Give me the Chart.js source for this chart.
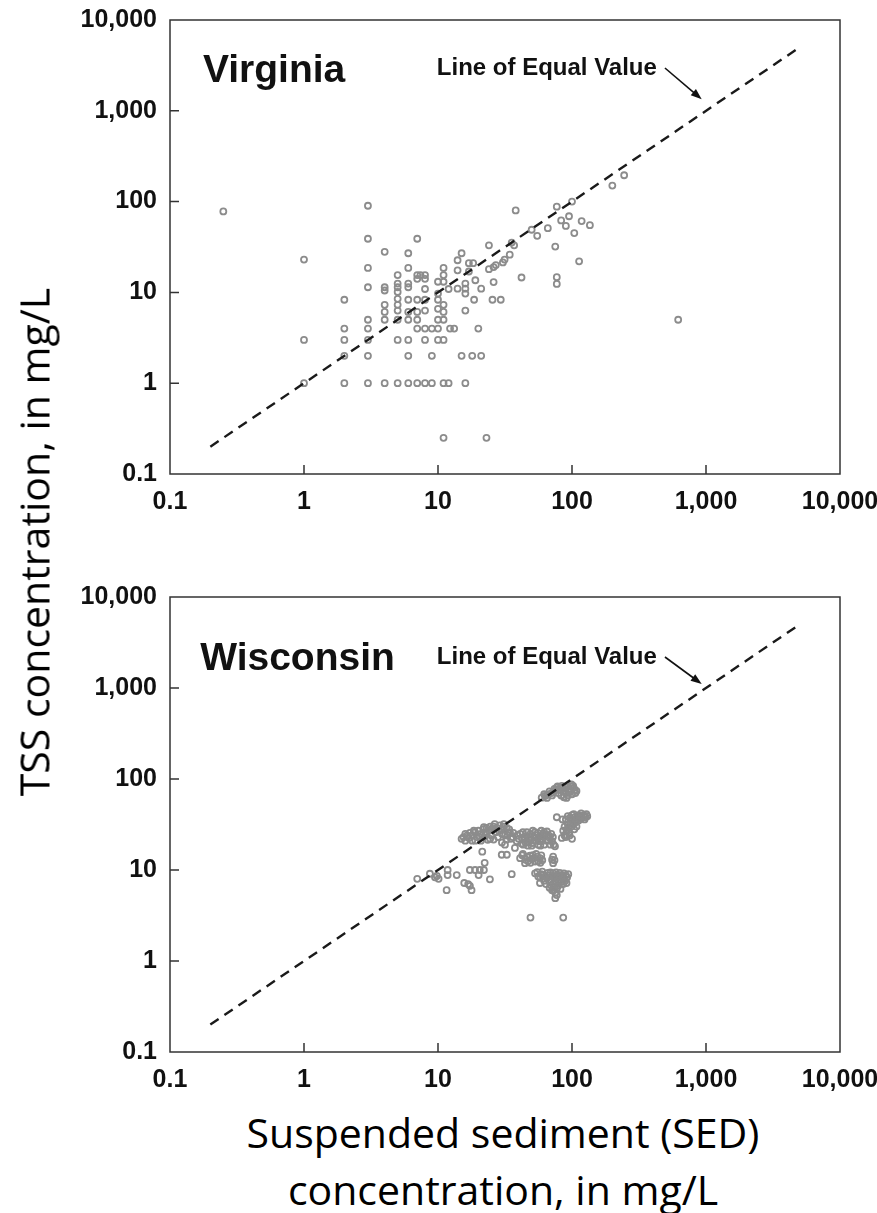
<!DOCTYPE html>
<html lang="en">

<head>
    <meta charset="UTF-8">
    <title>TSS x SED</title>
    <script src="https://cdn.jsdelivr.net/npm/chart.js"></script>
    <style>
        body {
            margin: 0;
            background: #fff;
            width: 877px;
            height: 1213px;
            position: relative;
            overflow: hidden;
        }

        canvas {
            position: absolute;
            left: 0;
        }

        #grafVirginia {
            top: 0;
        }

        #grafWisconsin {
            top: 560px;
        }

        .tituloY {
            position: absolute;
            left: 34px;
            top: 542px;
            width: 640px;
            text-align: center;
            font-family: 'Open Sans', sans-serif;
            font-size: 41px;
            line-height: 41px;
            color: #000;
            white-space: nowrap;
            transform: translate(-50%, -50%) rotate(-90deg);
        }

        .tituloX {
            position: absolute;
            left: 203px;
            top: 1104px;
            width: 600px;
            text-align: center;
            font-family: 'Open Sans', sans-serif;
            font-size: 41px;
            line-height: 57px;
            color: #000;
            white-space: nowrap;
        }
    </style>
</head>

<body>
    <canvas id="grafVirginia" width="877" height="540"></canvas>
    <canvas id="grafWisconsin" width="877" height="540"></canvas>

    <div class="tituloY">TSS concentration, in mg/L</div>
    <div class="tituloX">Suspended sediment (SED)<br>concentration, in mg/L</div>

    <script>
        // eixos (log)
        const valoresEixo = [0.1, 1, 10, 100, 1000, 10000];
        const rotulosEixo = ['0.1', '1', '10', '100', '1,000', '10,000'];

        // linha de valor igual
        const linhaIgualSED = [0.2, 5000];
        const linhaIgualTSS = [0.2, 5000];

        // Virginia
        const virginiaSED = [0.25, 3, 1, 1, 1, 38,
            2, 3, 4, 5, 6, 7, 8, 9, 11, 12, 16,
            11, 23,
            2, 3, 6, 9, 15, 18, 21,
            3, 7, 4, 6, 3, 6, 3, 2, 2, 2, 3, 3, 3,
            4, 4, 4, 4, 4,
            5, 5, 5, 5, 5, 5, 5, 5, 5,
            6, 6, 6, 6, 6, 6,
            7, 7.4, 8, 7, 8,
            7, 7, 7, 7,
            8, 8, 8, 8, 9, 10, 8, 10, 11,
            10, 10, 10, 10, 10,
            11, 11, 11, 11, 11, 11,
            12, 12.3, 13.2,
            14, 15, 14, 14, 16, 16, 16, 17, 18.3, 16, 17, 19, 18.6, 20, 21,
            24, 26, 24, 26, 27, 25.5, 29.4, 30.5, 31.4, 34.3, 35.5, 37, 42,
            77, 100, 200, 245, 83, 95, 90, 118, 136, 104, 75, 113, 77, 77, 620, 66, 55, 50];
        const virginiaTSS = [78, 90, 23, 3, 1, 80,
            1, 1, 1, 1, 1, 1, 1, 1, 1, 1, 1,
            0.25, 0.25,
            2, 2, 2, 2, 2, 2, 2,
            39, 39, 28, 27, 18.6, 18.6, 11.4, 8.3, 4, 3, 5, 4, 3,
            11.4, 10.5, 7.3, 6.1, 5,
            15.5, 12.5, 11.4, 10.1, 8.5, 7.3, 6.3, 5, 3,
            3, 12.5, 11.4, 8.3, 6.1, 5,
            15.5, 15.5, 15.5, 14.1, 14.1,
            8.3, 6.1, 5, 4,
            10.9, 8.3, 6.3, 4, 4, 4, 3, 3, 3,
            13.1, 9.7, 8.3, 6.6, 5,
            18.6, 15.5, 13.1, 7.3, 6.1, 5,
            10.9, 4, 4,
            22.6, 27, 17.5, 11, 11, 12.5, 9.7, 21, 21, 6.3, 17, 13.6, 8.3, 4, 11,
            33, 13, 18, 19, 20, 8.3, 8.3, 21.4, 23, 26, 35.4, 33, 14.6,
            88, 100, 150, 195, 62, 69, 54, 61, 55, 45, 32, 22, 14.7, 12.4, 5, 51, 42, 49];

        // Wisconsin
        const wisconsinSED = [7, 8.7, 9.5, 10.1, 9.8, 11.8, 11.8, 13.8, 11.6, 15.7, 16.8, 17.3, 17.8, 17.3, 18.9, 20.5, 22, 20.1, 22.3, 21.4, 24.4,
            15, 15.5, 16, 16.5, 17, 17.3, 18, 18, 18.9, 19.5, 20, 20.9, 21, 21.8, 22, 22.5, 23, 23.5, 24, 24.5, 25, 26, 26, 27, 27.5, 28, 29, 29.9, 30, 30.7, 31.6, 31.6, 32.6, 32.6, 33.5, 34.5, 35, 36.5, 37.5, 38.7,
            16, 18.5, 20.5, 22, 23, 25.5, 26.5, 28.5, 30, 31, 33, 34, 36, 24.5, 19,
            40, 41, 42, 43.3, 44, 45.9, 46, 47, 48, 49, 50, 51, 52, 53, 54, 55.6, 56, 57.7, 58, 59, 60, 62, 63, 65, 66, 68, 70, 71, 73, 74.7,
            39, 43, 45, 49, 51, 54, 56, 58, 61, 64, 67, 69, 72, 47, 52, 62, 44,
            29.9, 32.6,
            41, 42.5, 44.6, 46, 47, 48.5, 50, 51, 53, 55, 56, 57.7, 60, 72.3, 72.3,
            43, 45, 49, 52, 54, 58, 59, 71, 74,
            35.5,
            53, 56, 57.7, 59, 61, 62, 65, 66, 68, 68, 70, 71, 72.3, 72, 74, 75, 75, 75, 76, 77, 79, 80, 82, 84, 86, 88, 91, 93.8, 90,
            55, 58, 60, 63, 64, 67, 69, 73, 76, 78, 81, 83, 85, 87, 89, 92, 70, 73, 77, 79, 82, 74,
            49, 86,
            59.4, 63, 66, 70, 72.3, 75, 76.9, 80, 83, 85, 86, 90, 91, 95, 98, 100, 102, 105, 108, 96,
            62, 68, 74, 78, 82, 88, 92, 97, 103, 106, 93, 87, 79, 71, 65, 99, 84,
            77, 90, 96.6, 100, 105, 110, 115, 118, 122, 126, 130, 102, 107, 112, 98, 91, 88, 94, 84, 88, 100, 95, 104,
            85, 93, 99, 103, 108, 113, 117, 124, 128, 105, 99, 93, 96, 90, 86, 92, 108, 114];
        const wisconsinTSS = [8, 9.1, 8.3, 8, 8.6, 10, 8.8, 8.8, 6, 7.2, 7, 6.7, 6, 10, 10, 10, 10, 8.8, 12, 15.9, 7.9,
            22, 23, 21, 24, 22.5, 25.6, 21, 24, 26, 23, 27, 21, 25, 28, 23, 26, 29, 21.5, 27, 30, 24, 30, 21.6, 26, 29, 23, 31, 28, 20, 30, 19, 24, 29, 21.6, 26, 25.6, 22, 25.6, 17.5, 20.7,
            25, 27, 23, 29.5, 25, 28, 32, 27, 25, 32, 24, 28, 23, 22, 21,
            22, 25, 19.5, 19, 23, 23.5, 26, 20, 21.5, 25, 18.5, 19.8, 23, 26, 21, 25.6, 19, 20.7, 23.5, 27, 22, 19, 24.5, 26.5, 21, 22.5, 25, 20.7, 19, 18.2,
            24, 26, 20, 22.5, 27, 24, 22.5, 18.5, 25, 21, 24, 19, 23, 18.5, 21, 26, 21.5,
            14.7, 14.7,
            13.5, 14.5, 11.9, 14, 12.5, 14.4, 13.2, 14.6, 12.4, 14, 12.5, 13.5, 12.8, 14, 11.9,
            15, 13, 12, 13.5, 15, 12, 14.5, 13, 12.8,
            9,
            9.2, 8.5, 7.2, 9, 8.8, 7.6, 8.1, 9.3, 7.4, 6.4, 8.5, 6, 9.2, 7, 6.5, 8.2, 5.6, 4.9, 7.3, 6.2, 7.2, 8.5, 7.8, 8.8, 7, 8, 7.2, 9, 8.8,
            9.5, 8.2, 9.6, 8.5, 7, 8.8, 9.4, 8.6, 9.4, 8.8, 9.3, 7.4, 8.2, 9.2, 7.6, 8.3, 6.8, 6, 5.3, 6.7, 6.2, 7.6,
            3, 3,
            62.4, 65, 67, 70, 71, 75, 80.5, 76, 66, 79, 74, 70, 62, 78, 83, 68, 84, 76, 74, 72,
            68, 73, 78, 83, 80, 78, 81, 75, 80, 70, 66, 63, 70, 66, 62, 87, 84,
            38, 36, 37.5, 40, 38, 39, 39, 37, 40, 38, 39, 31.6, 34, 35, 33, 26.5, 30, 29, 22.5, 24, 22, 26, 28,
            36, 39, 36, 41, 36, 40, 42, 36, 41, 33, 30, 32, 24, 23, 27, 28, 30, 37];

        const fonteTick = "'Liberation Sans', Arial, sans-serif";

        // moldura, ticks para dentro, textos e seta
        const pluginMoldura = {
            id: 'moldura',
            afterDraw(chart, args, opts) {
                const ctx = chart.ctx;
                const a = chart.chartArea;
                const x = chart.scales.x;
                const y = chart.scales.y;
                ctx.save();
                ctx.strokeStyle = '#333';
                ctx.lineWidth = 1.5;
                ctx.strokeRect(a.left, a.top, a.right - a.left, a.bottom - a.top);

                ctx.beginPath();
                for (let i = 1; i < valoresEixo.length - 1; i++) {
                    const px = x.getPixelForValue(valoresEixo[i]);
                    ctx.moveTo(px, a.bottom);
                    ctx.lineTo(px, a.bottom - 9);
                    const py = y.getPixelForValue(valoresEixo[i]);
                    ctx.moveTo(a.left, py);
                    ctx.lineTo(a.left + 9, py);
                }
                ctx.stroke();

                ctx.fillStyle = '#111';
                ctx.textBaseline = 'alphabetic';
                ctx.font = "bold 39px 'Liberation Sans', Arial, sans-serif";
                ctx.fillText(opts.titulo, x.getPixelForValue(opts.tituloEm[0]), y.getPixelForValue(opts.tituloEm[1]));
                ctx.font = "bold 24px 'Liberation Sans', Arial, sans-serif";
                ctx.fillText(opts.rotulo, x.getPixelForValue(opts.rotuloEm[0]), y.getPixelForValue(opts.rotuloEm[1]));

                const x1 = x.getPixelForValue(opts.setaDe[0]), y1 = y.getPixelForValue(opts.setaDe[1]);
                const x2 = x.getPixelForValue(opts.setaAte[0]), y2 = y.getPixelForValue(opts.setaAte[1]);
                const ang = Math.atan2(y2 - y1, x2 - x1);
                ctx.strokeStyle = '#111';
                ctx.lineWidth = 1.6;
                ctx.beginPath();
                ctx.moveTo(x1, y1);
                ctx.lineTo(x2 - 8 * Math.cos(ang), y2 - 8 * Math.sin(ang));
                ctx.stroke();
                ctx.beginPath();
                ctx.moveTo(x2, y2);
                ctx.lineTo(x2 - 11 * Math.cos(ang) + 4 * Math.sin(ang), y2 - 11 * Math.sin(ang) - 4 * Math.cos(ang));
                ctx.lineTo(x2 - 11 * Math.cos(ang) - 4 * Math.sin(ang), y2 - 11 * Math.sin(ang) + 4 * Math.cos(ang));
                ctx.closePath();
                ctx.fill();
                ctx.restore();
            }
        };

        function montarPontos(sed, tss) {
            const pontos = [];
            for (var i = 0; i < sed.length; i++) {
                pontos.push({ x: sed[i], y: tss[i] });
            }
            return pontos;
        }

        function criarGrafico(idCanvas, sed, tss, anotacao, topo, alturaEixoX) {
            const eixo = (posicao) => ({
                type: 'logarithmic',
                position: posicao,
                min: 0.1,
                max: 10000,
                grid: { display: false, drawTicks: false },
                border: { display: false },
                afterBuildTicks: (s) => { s.ticks = valoresEixo.map(v => ({ value: v })); },
                afterFit: (s) => {
                    if (posicao === 'left') { s.width = 170; } else { s.height = alturaEixoX; }
                    s.paddingLeft = 0; s.paddingRight = 0; s.paddingTop = 0; s.paddingBottom = 0;
                },
                ticks: {
                    autoSkip: false,
                    maxRotation: 0,
                    padding: 13,
                    color: '#111',
                    font: { family: fonteTick, size: 25, weight: 'bold' },
                    callback: (v) => rotulosEixo[valoresEixo.indexOf(v)]
                }
            });

            const ctx = document.getElementById(idCanvas).getContext('2d');
            new Chart(ctx, {
                type: 'scatter',
                data: {
                    datasets: [{
                        label: 'Line of Equal Value',
                        data: montarPontos(linhaIgualSED, linhaIgualTSS),
                        showLine: true,
                        borderColor: '#1a1a1a',
                        borderWidth: 2.4,
                        borderDash: [10, 7],
                        pointRadius: 0
                    }, {
                        label: 'TSS x SED',
                        data: montarPontos(sed, tss),
                        pointRadius: 3,
                        borderWidth: 1.8,
                        borderColor: '#8c8c8c',
                        backgroundColor: 'rgba(0,0,0,0)'
                    }]
                },
                options: {
                    responsive: false,
                    animation: false,
                    layout: { padding: { top: topo, right: 37, bottom: 0, left: 0 } },
                    plugins: {
                        legend: { display: false },
                        tooltip: { enabled: false },
                        moldura: anotacao
                    },
                    scales: {
                        x: eixo('bottom'),
                        y: eixo('left')
                    }
                },
                plugins: [pluginMoldura]
            });
        }

        criarGrafico('grafVirginia', virginiaSED, virginiaTSS, {
            titulo: 'Virginia', tituloEm: [0.176, 2075],
            rotulo: 'Line of Equal Value', rotuloEm: [9.8, 2480],
            setaDe: [494, 2960], setaAte: [929, 1340]
        }, 20, 66);

        criarGrafico('grafWisconsin', wisconsinSED, wisconsinTSS, {
            titulo: 'Wisconsin', tituloEm: [0.168, 1578],
            rotulo: 'Line of Equal Value', rotuloEm: [9.8, 1837],
            setaDe: [494, 2190], setaAte: [929, 1107]
        }, 37, 48);
    </script>
</body>

</html>
